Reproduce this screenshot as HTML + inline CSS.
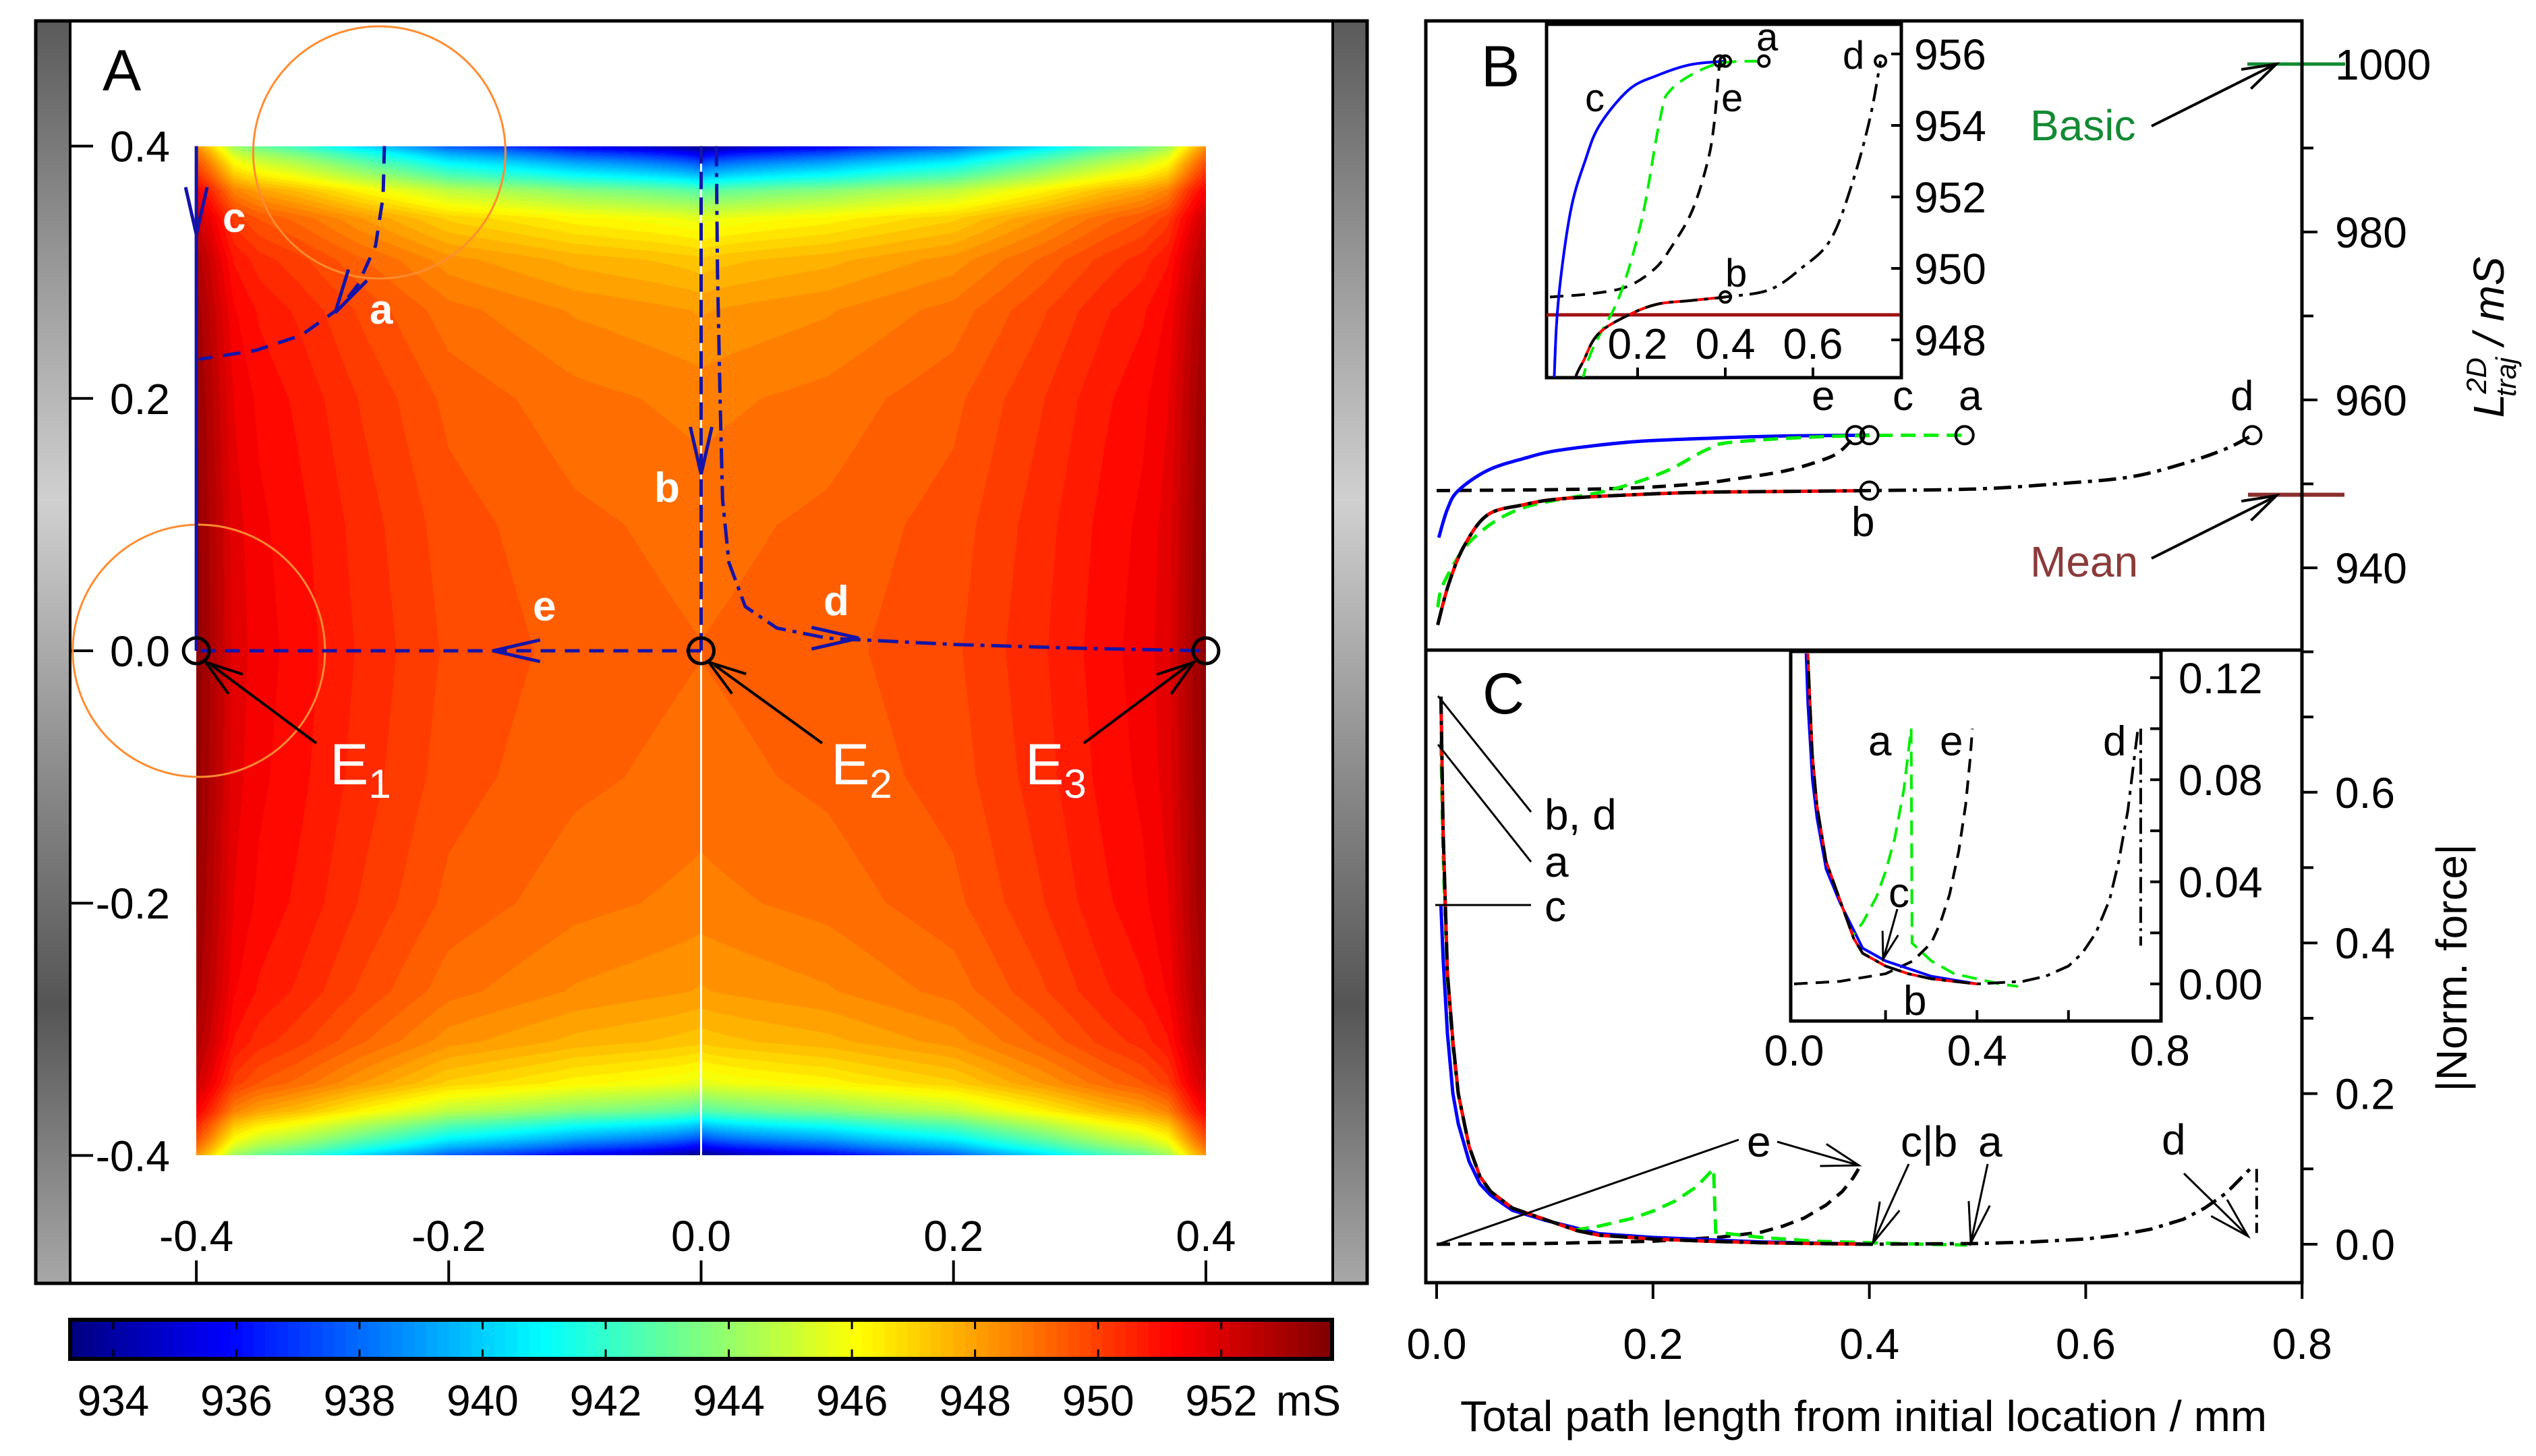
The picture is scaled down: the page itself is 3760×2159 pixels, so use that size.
<!DOCTYPE html>
<html><head><meta charset="utf-8">
<style>
html,body{margin:0;padding:0;background:#fff;}
#wrap{position:relative;width:3760px;height:2159px;overflow:hidden;background:#fff;}
#heat{position:absolute;left:291px;top:217px;width:1497px;height:1496px;}
#svg{position:absolute;left:0;top:0;}
text{font-family:"Liberation Sans",Arial,sans-serif;}
</style></head>
<body>
<div id="wrap">
<canvas id="heat" width="1497" height="1496"></canvas>
<svg id="svg" width="3760" height="2159" viewBox="0 0 3760 2159" xmlns="http://www.w3.org/2000/svg">
<defs>
<linearGradient id="gbar" x1="0" y1="0" x2="0" y2="1">
<stop offset="0" stop-color="#5a5a5a"/><stop offset="0.2" stop-color="#9a9a9a"/><stop offset="0.38" stop-color="#d0d0d0"/><stop offset="0.6" stop-color="#8a8a8a"/><stop offset="0.78" stop-color="#555"/><stop offset="1" stop-color="#a8a8a8"/>
</linearGradient>
<clipPath id="clipBin"><rect x="2293" y="37" width="524" height="522"/></clipPath>
<clipPath id="clipB"><rect x="2115" y="33" width="1296" height="929"/></clipPath>
<clipPath id="clipCin"><rect x="2655" y="969" width="547" height="543"/></clipPath>
<clipPath id="clipC"><rect x="2115" y="966" width="1296" height="932"/></clipPath>
</defs>
<g id="gA"></g>
<g id="gB"></g>
<g id="gC"></g>
</svg>
</div>
<script>
// ===== Data =====
const edgeDist = [0, 0.006, 0.013, 0.024, 0.035, 0.057, 0.09, 0.13, 0.2, 0.3, 0.4];
const edgeDrop = [16.2, 14, 12, 9.5, 6.7, 3.7, 2.0, 1.1, 0.5, 0.15, 0];
const sideDist = [0, 0.01, 0.03, 0.05, 0.08, 0.13, 0.2, 0.3, 0.4];
const sideRise = [4.3, 3.8, 2.6, 2.2, 1.9, 1.3, 0.6, 0.2, 0];
const centerValue = 949.2;
const cbarMin = 933.3, cbarMax = 953.8;
const cbarTicks = [934, 936, 938, 940, 942, 944, 946, 948, 950, 952];
const axisTicksA = [-0.4, -0.2, 0.0, 0.2, 0.4];

const trajC = [[-0.4, 0.4], [-0.4, 0.0]];
const trajA = [[-0.251, 0.4], [-0.252, 0.36], [-0.258, 0.321], [-0.272, 0.29], [-0.286, 0.272], [-0.317, 0.25], [-0.353, 0.238], [-0.398, 0.231]];
const trajB = [[0, 0.4], [0, 0]];
const trajD = [[0.012, 0.4], [0.013, 0.3], [0.015, 0.2], [0.017, 0.12], [0.022, 0.07], [0.035, 0.035], [0.06, 0.018], [0.1, 0.01], [0.2, 0.005], [0.3, 0.002], [0.4, 0]];
const trajE = [[0, 0], [-0.4, 0]];
const electrodes = [[-0.4, 0], [0, 0], [0.4, 0]];

const bX_c = [0.002, 0.01, 0.02, 0.047, 0.08, 0.113, 0.18, 0.245, 0.32, 0.40];
const bY_c = [943.6, 947, 949.2, 951.6, 953, 954, 955, 955.4, 955.7, 955.8];
const bX_a = [0.001, 0.007, 0.033, 0.079, 0.158, 0.21, 0.25, 0.276, 0.375, 0.488];
const bY_a = [935.3, 938.3, 943.4, 947.1, 949.2, 951.4, 954.1, 955, 955.7, 955.8];
const bX_b = [0.001, 0.011, 0.025, 0.047, 0.08, 0.113, 0.18, 0.245, 0.32, 0.40];
const bY_b = [933.2, 938, 942.5, 946.3, 947.5, 948.2, 948.7, 949, 949.1, 949.2];
const bX_d = [0.001, 0.011, 0.025, 0.047, 0.08, 0.113, 0.18, 0.245, 0.32, 0.40, 0.5, 0.573, 0.64, 0.69, 0.73, 0.754];
const bY_d = [933.2, 938, 942.5, 946.3, 947.5, 948.2, 948.7, 949, 949.1, 949.2, 949.4, 950, 950.8, 952.4, 954.2, 955.8];
const bX_e = [0.0, 0.1, 0.178, 0.24, 0.277, 0.324, 0.36, 0.375, 0.387];
const bY_e = [949.2, 949.3, 949.5, 950.0, 950.6, 951.6, 953, 954.1, 955.8];
const endX = [0.387, 0.40, 0.488, 0.754, 0.40];
const endY = [955.8, 955.8, 955.8, 955.8, 949.2];
const meanValue = 948.7, basicValue = 1000;
const bTicks = [940, 960, 980, 1000];
const bInsetTicksY = [948, 950, 952, 954, 956];
const bInsetTicksX = [0.2, 0.4, 0.6];

const cX_bd = [0.004, 0.006, 0.01, 0.015, 0.02, 0.03, 0.04, 0.05, 0.07, 0.1, 0.13, 0.15, 0.2, 0.25, 0.3, 0.4];
const cY_bd = [0.727, 0.55, 0.36, 0.27, 0.2, 0.13, 0.09, 0.07, 0.048, 0.033, 0.018, 0.012, 0.007, 0.004, 0.002, 0.0];
const cX_c = [0.004, 0.006, 0.01, 0.015, 0.02, 0.03, 0.04, 0.05, 0.07, 0.1, 0.15, 0.2, 0.3, 0.4];
const cY_c = [0.45, 0.38, 0.28, 0.2, 0.16, 0.11, 0.08, 0.065, 0.045, 0.032, 0.014, 0.009, 0.003, 0.0];
const cX_a = [0.004, 0.006, 0.01, 0.015, 0.02, 0.03, 0.04, 0.05, 0.07, 0.1, 0.128, 0.15, 0.18, 0.2, 0.22, 0.24, 0.256, 0.258, 0.3, 0.35, 0.4, 0.45, 0.49];
const cY_a = [0.668, 0.52, 0.35, 0.26, 0.2, 0.13, 0.09, 0.07, 0.048, 0.033, 0.019, 0.024, 0.034, 0.044, 0.057, 0.076, 0.1, 0.016, 0.009, 0.004, 0.002, 0.0, -0.001];
const cX_e = [0.0, 0.1, 0.2, 0.26, 0.3, 0.32, 0.34, 0.36, 0.375, 0.385, 0.39];
const cY_e = [0.0, 0.001, 0.004, 0.009, 0.016, 0.024, 0.035, 0.052, 0.07, 0.088, 0.1];
const cX_d = [0.4, 0.5, 0.55, 0.6, 0.63, 0.66, 0.69, 0.71, 0.73, 0.745, 0.752];
const cY_d = [0.0, 0.001, 0.003, 0.007, 0.012, 0.02, 0.033, 0.048, 0.068, 0.09, 0.1];
const cDropX = 0.758, cDropTop = 0.1, cDropBottom = 0.015;
const cTicks = [0.0, 0.2, 0.4, 0.6];
const cMinor = [0.1, 0.3, 0.5, 0.7];
const cInsetTicksY = [0.0, 0.04, 0.08, 0.12];
const cInsetTicksX = [0.0, 0.4, 0.8];
const xTicksBC = [0.0, 0.2, 0.4, 0.6, 0.8];

// ===== Scales =====
const ax = x => 1039.5 + x * 1871;
const ay = y => 965 - y * 1871;
const bx = x => 2130 + x * 1604;
const by = v => 593 - (v - 960) * 12.45;
const ibx = x => 2298 + x * 650;
const iby = v => 80 + (956 - v) * 53;
const cx = bx;
const cy = v => 1845 - v * 1117;
const icx = x => 2660 + x * 678;
const icy = v => 1459 - v * 3785;

const NS = "http://www.w3.org/2000/svg";
function mk(parent, tag, attrs, txt) {
  const e = document.createElementNS(NS, tag);
  for (const k in attrs) e.setAttribute(k, attrs[k]);
  if (txt !== undefined) e.textContent = txt;
  parent.appendChild(e);
  return e;
}
function interp(xs, ys, x) {
  if (x <= xs[0]) return ys[0];
  for (let i = 1; i < xs.length; i++) if (x <= xs[i]) { const t = (x - xs[i-1]) / (xs[i] - xs[i-1]); return ys[i-1] + t * (ys[i] - ys[i-1]); }
  return ys[ys.length - 1];
}
function jet(t) {
  const c = v => Math.max(0, Math.min(1, v));
  return [c(1.5 - Math.abs(4*t - 3)), c(1.5 - Math.abs(4*t - 2)), c(1.5 - Math.abs(4*t - 1))].map(v => Math.round(v * 255));
}
function pathFrom(xs, ys, fx, fy) {
  return xs.map((x, i) => (i ? "L" : "M") + fx(x).toFixed(1) + " " + fy(ys[i]).toFixed(1)).join(" ");
}
function smoothPath(xs, ys, fx, fy) {
  const P = xs.map((x, i) => [fx(x), fy(ys[i])]);
  let d = "M" + P[0][0].toFixed(1) + " " + P[0][1].toFixed(1);
  for (let i = 0; i < P.length - 1; i++) {
    const p0 = P[Math.max(0, i-1)], p1 = P[i], p2 = P[i+1], p3 = P[Math.min(P.length-1, i+2)];
    const c1 = [p1[0] + (p2[0]-p0[0])/6, p1[1] + (p2[1]-p0[1])/6];
    const c2 = [p2[0] - (p3[0]-p1[0])/6, p2[1] - (p3[1]-p1[1])/6];
    d += ` C${c1[0].toFixed(1)} ${c1[1].toFixed(1)} ${c2[0].toFixed(1)} ${c2[1].toFixed(1)} ${p2[0].toFixed(1)} ${p2[1].toFixed(1)}`;
  }
  return d;
}
function vArrow(g, tipX, tipY, dx, dy, len, half, color, w) {
  const L = Math.hypot(dx, dy); const ux = dx / L, uy = dy / L;
  const bxp = tipX - ux * len, byp = tipY - uy * len;
  const p1 = [bxp - uy * half, byp + ux * half], p2 = [bxp + uy * half, byp - ux * half];
  return mk(g, "path", {d: `M${p1[0]} ${p1[1]} L${tipX} ${tipY} L${p2[0]} ${p2[1]}`, fill: "none", stroke: color, "stroke-width": w});
}

// ===== Heatmap =====
(function(){
  const cv = document.getElementById("heat");
  const ctx = cv.getContext("2d");
  const W = cv.width, H = cv.height;
  const img = ctx.createImageData(W, H);
  for (let j = 0; j < H; j++) {
    const y = 0.4 - (j + 0.5) / H * 0.8;
    const dy = 0.4 - Math.abs(y);
    const drop = interp(edgeDist, edgeDrop, dy);
    for (let i = 0; i < W; i++) {
      const x = -0.4 + (i + 0.5) / W * 0.8;
      const dx = 0.4 - Math.abs(x);
      const rise = interp(sideDist, sideRise, dx);
      const w = rise / sideRise[0];
      const v = centerValue + rise - drop * (1 - 0.68 * Math.sqrt(w));
      const t = Math.round(((v - cbarMin) / (cbarMax - cbarMin)) * 60) / 60;
      const c = jet(t);
      const k = (j * W + i) * 4;
      img.data[k] = c[0]; img.data[k+1] = c[1]; img.data[k+2] = c[2]; img.data[k+3] = 255;
    }
  }
  ctx.putImageData(img, 0, 0);
})();

// ===== Panel A =====
(function(){
  const g = document.getElementById("gA");
  let e;
  e = mk(g, "rect", {x: 53, y: 31, width: 50, height: 1872, fill: "url(#gbar)"});
   
  e = mk(g, "rect", {x: 1977, y: 31, width: 50, height: 1872, fill: "url(#gbar)"});
   
  e = mk(g, "rect", {x: 53, y: 31, width: 1974, height: 1872, fill: "none", stroke: "#000", "stroke-width": 5});
   
  mk(g, "line", {x1: 104, y1: 31, x2: 104, y2: 1903, stroke: "#000", "stroke-width": 4});
  mk(g, "line", {x1: 1976, y1: 31, x2: 1976, y2: 1903, stroke: "#000", "stroke-width": 4});
  e = mk(g, "line", {x1: ax(0), y1: ay(0.4), x2: ax(0), y2: ay(-0.4), stroke: "#fff", "stroke-width": 3});
   
  axisTicksA.forEach(t => {
    e = mk(g, "line", {x1: 105, y1: ay(t), x2: 138, y2: ay(t), stroke: "#000", "stroke-width": 4});
     
    e = mk(g, "text", {x: 252, y: ay(t) + 23, "font-size": 64, "text-anchor": "end"}, t.toFixed(1));
     
    e = mk(g, "line", {x1: ax(t), y1: 1869, x2: ax(t), y2: 1903, stroke: "#000", "stroke-width": 4});
     
    e = mk(g, "text", {x: ax(t), y: 1855, "font-size": 64, "text-anchor": "middle"}, t.toFixed(1));
     
  });
  e = mk(g, "text", {x: 152, y: 134, "font-size": 86}, "A");
   
  e = mk(g, "circle", {cx: ax(-0.255), cy: ay(0.395), r: 187, fill: "none", stroke: "#ff8c30", "stroke-width": 3});
   
  e = mk(g, "circle", {cx: ax(-0.398), cy: ay(0), r: 187, fill: "none", stroke: "#ff8c30", "stroke-width": 3});
   
  const blue = "#1414a8";
  const tp = arr => arr.map((p, i) => (i ? "L" : "M") + ax(p[0]).toFixed(1) + " " + ay(p[1]).toFixed(1)).join(" ");
  e = mk(g, "path", {d: tp(trajC), fill: "none", stroke: blue, "stroke-width": 5});
   
  e = mk(g, "path", {d: tp(trajA), fill: "none", stroke: blue, "stroke-width": 5, "stroke-dasharray": "26 16"});
   
  e = mk(g, "path", {d: tp(trajB), fill: "none", stroke: blue, "stroke-width": 5, "stroke-dasharray": "26 12"});
   
  e = mk(g, "path", {d: tp(trajD), fill: "none", stroke: blue, "stroke-width": 5, "stroke-dasharray": "30 10 6 10"});
   
  e = mk(g, "path", {d: tp(trajE), fill: "none", stroke: blue, "stroke-width": 5, "stroke-dasharray": "22 14"});
   
  vArrow(g, ax(-0.4), ay(0.33), 0, 1, 70, 16, blue, 5);
  vArrow(g, ax(-0.29), ay(0.268), -0.6, 1, 65, 16, blue, 5);
  vArrow(g, ax(0), ay(0.14), 0, 1, 70, 16, blue, 5);
  vArrow(g, ax(0.125), ay(0.01), 1, 0, 70, 16, blue, 5);
  vArrow(g, ax(-0.165), ay(0), -1, 0, 70, 16, blue, 5);
  [["c", 330, 344], ["a", 548, 480], ["b", 970, 744], ["e", 790, 920], ["d", 1221, 912]].forEach(l => {
    e = mk(g, "text", {x: l[1], y: l[2], "font-size": 62, fill: "#fff", "font-weight": "bold"}, l[0]);
     
  });
  electrodes.forEach((p, i) => {
    e = mk(g, "circle", {cx: ax(p[0]), cy: ay(p[1]), r: 19, fill: "none", stroke: "#000", "stroke-width": 5});
     
  });
  const elab = [[489, 1102, 469, 305, -1], [1232, 1102, 1219, 1051, -1], [1520, 1102, 1607, 1770, 1]];
  elab.forEach((l, i) => {
    mk(g, "line", {x1: l[2], y1: 1102, x2: l[3] + (l[4] < 0 ? 8 : -8), y2: 986, stroke: "#000", "stroke-width": 4});
    vArrow(g, l[3], 982, l[3] - l[2], 982 - 1102, 55, 18, "#000", 4);
    const t = mk(g, "text", {x: l[0], y: 1163, "font-size": 86, fill: "#fff"});
     
    mk(t, "tspan", {}, "E");
    mk(t, "tspan", {dy: 20, "font-size": 60}, String(i + 1));
  });
  const cbX0 = 104, cbX1 = 1975, cbY = 1957, cbH = 58;
  const N = 110;
  for (let i = 0; i < N; i++) {
    const v = cbarMin + (i + 0.5) / N * (cbarMax - cbarMin);
    const c = jet((v - cbarMin) / (cbarMax - cbarMin));
    e = mk(g, "rect", {x: cbX0 + i * (cbX1 - cbX0) / N, y: cbY, width: (cbX1 - cbX0) / N + 1, height: cbH, fill: `rgb(${c[0]},${c[1]},${c[2]})`});
     
  }
  e = mk(g, "rect", {x: cbX0, y: cbY, width: cbX1 - cbX0, height: cbH, fill: "none", stroke: "#000", "stroke-width": 6});
   
  const cbx = v => cbX0 + (v - cbarMin) / (cbarMax - cbarMin) * (cbX1 - cbX0);
  cbarTicks.forEach(t => {
    mk(g, "line", {x1: cbx(t), y1: cbY, x2: cbx(t), y2: cbY + 14, stroke: "#000", "stroke-width": 3});
    mk(g, "line", {x1: cbx(t), y1: cbY + cbH - 14, x2: cbx(t), y2: cbY + cbH, stroke: "#000", "stroke-width": 3});
    e = mk(g, "text", {x: cbx(t), y: 2099, "font-size": 64, "text-anchor": "middle"}, String(t));
     
  });
  e = mk(g, "text", {x: 1892, y: 2099, "font-size": 64}, "mS");
   
})();

// ===== Panel B =====
(function(){
  const g = document.getElementById("gB");
  let e;
  const plot = mk(g, "g", {"clip-path": "url(#clipB)"});
  const lines = [
    [bX_e, bY_e, "#000", "20 12", "curve-e"],
    [bX_c, bY_c, "#0000ff", "", "curve-c"],
    [bX_a, bY_a, "#00ee00", "22 12", "curve-a"],
    [bX_b, bY_b, "#ff0000", "", "curve-b"],
    [bX_d, bY_d, "#000", "26 10 6 10", "curve-d"]
  ];
  lines.forEach(l => {
    e = mk(plot, "path", {d: smoothPath(l[0], l[1], bx, by), fill: "none", stroke: l[2], "stroke-width": 5, "stroke-dasharray": l[3]});
     
  });
  endX.forEach((x, i) => {
    e = mk(g, "circle", {cx: bx(x), cy: by(endY[i]), r: 13, fill: "none", stroke: "#000", "stroke-width": 4});
     
  });
  [["e", 2686, 608], ["c", 2806, 608], ["a", 2904, 608], ["d", 3307, 608], ["b", 2745, 795]].forEach(l => {
    e = mk(g, "text", {x: l[1], y: l[2], "font-size": 62}, l[0]);
     
  });
  e = mk(g, "rect", {x: 2293, y: 36, width: 526, height: 524, fill: "#fff", stroke: "#000", "stroke-width": 5});
   
  const ip = mk(g, "g", {"clip-path": "url(#clipBin)"});
  e = mk(ip, "line", {x1: 2293, y1: iby(meanValue), x2: 2819, y2: iby(meanValue), stroke: "#a01010", "stroke-width": 5});
   
  lines.forEach(l => {
    e = mk(ip, "path", {d: smoothPath(l[0], l[1], ibx, iby), fill: "none", stroke: l[2], "stroke-width": 4, "stroke-dasharray": l[3]});
     
  });
  endX.forEach((x, i) => {
    e = mk(ip, "circle", {cx: ibx(x), cy: iby(endY[i]), r: 8, fill: "none", stroke: "#000", "stroke-width": 4});
     
  });
  bInsetTicksX.forEach(t => {
    mk(g, "line", {x1: ibx(t), y1: 560, x2: ibx(t), y2: 545, stroke: "#000", "stroke-width": 4});
    e = mk(g, "text", {x: ibx(t), y: 532, "font-size": 64, "text-anchor": "middle"}, t.toFixed(1));
     
  });
  bInsetTicksY.forEach(t => {
    mk(g, "line", {x1: 2819, y1: iby(t), x2: 2804, y2: iby(t), stroke: "#000", "stroke-width": 4});
    e = mk(g, "text", {x: 2838, y: iby(t) + 23, "font-size": 64}, String(t));
     
  });
  [["c", 2350, 165], ["e", 2552, 165], ["a", 2604, 75], ["d", 2732, 102], ["b", 2558, 425]].forEach(l => {
    e = mk(g, "text", {x: l[1], y: l[2], "font-size": 58}, l[0]);
     
  });
  e = mk(g, "text", {x: 2196, y: 128, "font-size": 86}, "B");
   
  bTicks.forEach(t => {
    mk(g, "line", {x1: 3413, y1: by(t), x2: 3436, y2: by(t), stroke: "#000", "stroke-width": 4});
    mk(g, "line", {x1: 3413, y1: by(t - 10), x2: 3430, y2: by(t - 10), stroke: "#000", "stroke-width": 4});
    e = mk(g, "text", {x: 3462, y: by(t) + 23, "font-size": 64}, String(t));
     
  });
  e = mk(g, "line", {x1: 3332, y1: by(basicValue), x2: 3477, y2: by(basicValue), stroke: "#108a30", "stroke-width": 5});
   
  e = mk(g, "line", {x1: 3333, y1: by(meanValue), x2: 3476, y2: by(meanValue), stroke: "#8b2e2e", "stroke-width": 6});
   
  e = mk(g, "text", {x: 3010, y: 208, "font-size": 64, fill: "#138a34"}, "Basic");
   
  mk(g, "line", {x1: 3190, y1: 187, x2: 3370, y2: 97, stroke: "#000", "stroke-width": 4});
  vArrow(g, 3375, 95, 185, -92, 50, 16, "#000", 4);
  e = mk(g, "text", {x: 3010, y: 855, "font-size": 64, fill: "#8b3a3a"}, "Mean");
   
  mk(g, "line", {x1: 3190, y1: 828, x2: 3370, y2: 738, stroke: "#000", "stroke-width": 4});
  vArrow(g, 3375, 735, 185, -93, 50, 16, "#000", 4);
  const yl = mk(g, "text", {transform: "translate(3712,500) rotate(-90)", "font-size": 64, "text-anchor": "middle", "font-family": "'Liberation Serif',serif", "font-style": "italic"});
   
  mk(yl, "tspan", {}, "L");
  mk(yl, "tspan", {dy: -26, "font-size": 42}, "2D");
  mk(yl, "tspan", {dx: -58, dy: 44, "font-size": 42}, "traj");
  mk(yl, "tspan", {dy: -18}, " / mS");
})();

// ===== Panel C =====
(function(){
  const g = document.getElementById("gC");
  let e;
  const plot = mk(g, "g", {"clip-path": "url(#clipC)"});
  const lines = [
    [cX_e, cY_e, "#000", "20 12", "force-e"],
    [cX_c, cY_c, "#0000ff", "", "force-c"],
    [cX_a, cY_a, "#00ee00", "22 12", "force-a"],
    [cX_bd, cY_bd, "#ff0000", "", "force-b"],
    [cX_bd.concat(cX_d.slice(1)), cY_bd.concat(cY_d.slice(1)), "#000", "26 10 6 10", "force-d"]
  ];
  lines.forEach(l => {
    e = mk(plot, "path", {d: pathFrom(l[0], l[1], cx, cy), fill: "none", stroke: l[2], "stroke-width": 5, "stroke-dasharray": l[3]});
     
  });
  e = mk(plot, "line", {x1: cx(cDropX), y1: cy(cDropTop), x2: cx(cDropX), y2: cy(cDropBottom), stroke: "#000", "stroke-width": 4, "stroke-dasharray": "20 8 4 8"});
   
  mk(g, "line", {x1: 2132, y1: 1032, x2: 2270, y2: 1204, stroke: "#000", "stroke-width": 3});
  mk(g, "line", {x1: 2132, y1: 1104, x2: 2270, y2: 1278, stroke: "#000", "stroke-width": 3});
  mk(g, "line", {x1: 2128, y1: 1342, x2: 2270, y2: 1342, stroke: "#000", "stroke-width": 3});
  [["b, d", 2290, 1230], ["a", 2290, 1300], ["c", 2290, 1366]].forEach(l => {
    e = mk(g, "text", {x: l[1], y: l[2], "font-size": 64}, l[0]);
     
  });
  mk(g, "line", {x1: 2132, y1: 1845, x2: 2578, y2: 1690, stroke: "#000", "stroke-width": 3});
  e = mk(g, "text", {x: 2590, y: 1715, "font-size": 64}, "e");
   
  mk(g, "line", {x1: 2635, y1: 1693, x2: 2756, y2: 1728, stroke: "#000", "stroke-width": 3});
  vArrow(g, 2756, 1728, 121, 35, 55, 17, "#000", 3);
  e = mk(g, "text", {x: 2818, y: 1715, "font-size": 64}, "c|b");
   
  mk(g, "line", {x1: 2830, y1: 1726, x2: 2777, y2: 1843, stroke: "#000", "stroke-width": 3});
  vArrow(g, 2777, 1843, -53, 117, 60, 16, "#000", 3);
  e = mk(g, "text", {x: 2933, y: 1715, "font-size": 64}, "a");
   
  mk(g, "line", {x1: 2947, y1: 1726, x2: 2922, y2: 1843, stroke: "#000", "stroke-width": 3});
  vArrow(g, 2922, 1843, -25, 117, 60, 16, "#000", 3);
  e = mk(g, "text", {x: 3205, y: 1712, "font-size": 64}, "d");
   
  mk(g, "line", {x1: 3238, y1: 1740, x2: 3333, y2: 1833, stroke: "#000", "stroke-width": 3});
  vArrow(g, 3333, 1833, 95, 93, 60, 17, "#000", 3);
  e = mk(g, "text", {x: 2198, y: 1058, "font-size": 86}, "C");
   
  e = mk(g, "rect", {x: 2655, y: 966, width: 549, height: 548, fill: "#fff", stroke: "#000", "stroke-width": 5});
   
  const ip = mk(g, "g", {"clip-path": "url(#clipCin)"});
  lines.forEach(l => {
    e = mk(ip, "path", {d: pathFrom(l[0], l[1], icx, icy), fill: "none", stroke: l[2], "stroke-width": 4, "stroke-dasharray": l[3]});
     
  });
  e = mk(ip, "line", {x1: icx(cDropX), y1: icy(cDropTop), x2: icx(cDropX), y2: icy(cDropBottom), stroke: "#000", "stroke-width": 4, "stroke-dasharray": "24 8 4 8"});
   
  [0.2, 0.4, 0.6].forEach(t => mk(g, "line", {x1: icx(t), y1: 1514, x2: icx(t), y2: 1498, stroke: "#000", "stroke-width": 4}));
  cInsetTicksX.forEach(t => {
    e = mk(g, "text", {x: icx(t), y: 1580, "font-size": 64, "text-anchor": "middle"}, t.toFixed(1));
     
  });
  [0.0, 0.02, 0.04, 0.06, 0.08, 0.1, 0.12].forEach(t => mk(g, "line", {x1: 3204, y1: icy(t), x2: 3188, y2: icy(t), stroke: "#000", "stroke-width": 4}));
  cInsetTicksY.forEach(t => {
    e = mk(g, "text", {x: 3230, y: icy(t) + 23, "font-size": 64}, t.toFixed(2));
     
  });
  [["a", 2770, 1120], ["e", 2876, 1120], ["d", 3118, 1120], ["c", 2800, 1345], ["b", 2822, 1505]].forEach(l => {
    e = mk(g, "text", {x: l[1], y: l[2], "font-size": 62}, l[0]);
     
  });
  mk(g, "line", {x1: 2813, y1: 1348, x2: 2793, y2: 1420, stroke: "#000", "stroke-width": 3});
  vArrow(g, 2792, 1422, -20, 72, 40, 12, "#000", 3);
  cTicks.forEach(t => {
    mk(g, "line", {x1: 3413, y1: cy(t), x2: 3436, y2: cy(t), stroke: "#000", "stroke-width": 4});
    e = mk(g, "text", {x: 3462, y: cy(t) + 23, "font-size": 64}, t.toFixed(1));
     
  });
  cMinor.forEach(t => mk(g, "line", {x1: 3413, y1: cy(t), x2: 3430, y2: cy(t), stroke: "#000", "stroke-width": 4}));
  e = mk(g, "text", {transform: "translate(3657,1435) rotate(-90)", "font-size": 64, "text-anchor": "middle"}, "|Norm. force|");
   
  xTicksBC.forEach(t => {
    mk(g, "line", {x1: cx(t), y1: 1902, x2: cx(t), y2: 1926, stroke: "#000", "stroke-width": 4});
    e = mk(g, "text", {x: cx(t), y: 2015, "font-size": 64, "text-anchor": "middle"}, t.toFixed(1));
     
  });
  e = mk(g, "text", {x: 2763, y: 2122, "font-size": 64, "text-anchor": "middle", textLength: 1196, lengthAdjust: "spacingAndGlyphs"}, "Total path length from initial location / mm");
   
  e = mk(g, "rect", {x: 2114, y: 31, width: 1299, height: 1871, fill: "none", stroke: "#000", "stroke-width": 5});
   
  e = mk(g, "line", {x1: 2114, y1: 964, x2: 3413, y2: 964, stroke: "#000", "stroke-width": 5});
   
})();
</script>
</body></html>
